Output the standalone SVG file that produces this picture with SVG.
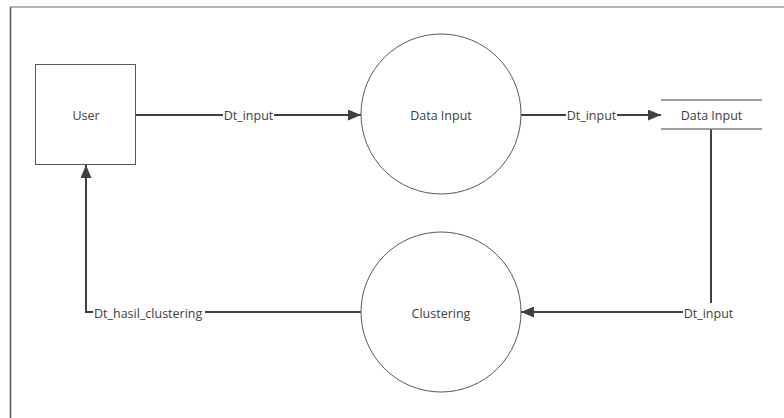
<svg xmlns="http://www.w3.org/2000/svg" width="784" height="418" viewBox="0 0 784 418">
  <style>
    .shape { fill: #ffffff; stroke: #595959; stroke-width: 1; }
    .store { fill: none; stroke: #7f7f7f; stroke-width: 1.5; }
    .flow { fill: none; stroke: #404040; stroke-width: 2; }
    .lbl { font-family: "Open Sans", "Liberation Sans", sans-serif; font-size: 12.5px; fill: #404040; }
    .nlbl { font-family: "Open Sans", "Liberation Sans", sans-serif; font-size: 12.5px; fill: #404040; text-anchor: middle; }
    .bg { fill: #ffffff; }
  </style>
  <defs>
    <marker id="arrow" markerWidth="13" markerHeight="11" refX="13" refY="5.5" orient="auto" markerUnits="userSpaceOnUse">
      <path d="M0,0 L13,5.5 L0,11 Z" fill="#404040"/>
    </marker>
  </defs>
  <rect x="0" y="0" width="784" height="418" fill="#ffffff"/>
  <g id="frame">
    <line x1="10" y1="7" x2="784" y2="7" stroke="#9a9a9a" stroke-width="1.5"/>
    <line x1="10.5" y1="7" x2="10.5" y2="418" stroke="#555555" stroke-width="1.5"/>
  </g>
  <g id="connectors">
    <line class="flow" x1="136" y1="115" x2="361" y2="115" marker-end="url(#arrow)"/>
    <line class="flow" x1="521" y1="115" x2="661" y2="115" marker-end="url(#arrow)"/>
    <polyline class="flow" points="711,129 711,312 521,312" marker-end="url(#arrow)"/>
    <polyline class="flow" points="361,312 86,312 86,165" marker-end="url(#arrow)"/>
    <rect class="bg" x="223" y="107" width="51" height="16"/>
    <text class="lbl" x="248.5" y="119.5" text-anchor="middle">Dt_input</text>
    <rect class="bg" x="566" y="107" width="51" height="16"/>
    <text class="lbl" x="591.5" y="119.5" text-anchor="middle">Dt_input</text>
    <rect class="bg" x="683" y="303" width="51" height="18"/>
    <text class="lbl" x="708.5" y="317.5" text-anchor="middle">Dt_input</text>
    <rect class="bg" x="93" y="304" width="112" height="16"/>
    <text class="lbl" x="94" y="317.5">Dt_hasil_clustering</text>
  </g>
  <g id="user">
    <rect class="shape" x="35.5" y="64.5" width="100" height="100"/>
    <text class="nlbl" x="86" y="119.5">User</text>
  </g>
  <g id="data-input-process">
    <ellipse class="shape" cx="441" cy="114" rx="80" ry="80"/>
    <text class="nlbl" x="441" y="119.5">Data Input</text>
  </g>
  <g id="clustering">
    <ellipse class="shape" cx="441" cy="312" rx="80" ry="80"/>
    <text class="nlbl" x="441" y="317.5">Clustering</text>
  </g>
  <g id="data-input-store">
    <line class="store" x1="661" y1="100" x2="762" y2="100"/>
    <line class="store" x1="661" y1="129" x2="762" y2="129"/>
    <text class="nlbl" x="711.5" y="119.5">Data Input</text>
  </g>
</svg>
